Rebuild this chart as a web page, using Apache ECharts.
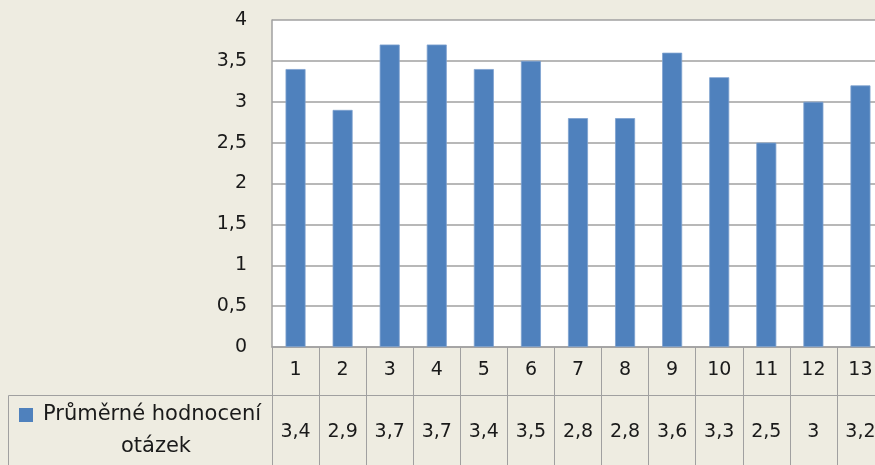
<!DOCTYPE html>
<html>
<head>
<meta charset="utf-8">
<script src="https://cdn.jsdelivr.net/npm/echarts@6/dist/echarts.min.js"></script>
<style>
html,body{margin:0;padding:0;background:#EEECE1;overflow:hidden;width:875px;height:465px;}
#c{width:886px;height:465px;}
</style>
</head>
<body>
<div id="c"></div>
<script>
const categories = ['1','2','3','4','5','6','7','8','9','10','11','12','13'];
const values = [3.4, 2.9, 3.7, 3.7, 3.4, 3.5, 2.8, 2.8, 3.6, 3.3, 2.5, 3, 3.2];
const seriesName = 'Průměrné hodnocení otázek';
const legendLines = ['Průměrné hodnocení', 'otázek'];
const yTicks = {min: 0, max: 4, interval: 0.5};

const fmt = v => String(v).replace('.', ',');
const FONT = 'DejaVu Sans';
const GRAY = '#A0A0A0';
const chart = echarts.init(document.getElementById('c'), null, {renderer: 'canvas'});
chart.setOption({
  backgroundColor: '#EEECE1',
  animation: false,
  textStyle: {fontFamily: FONT},
  grid: {left: 272, top: 20, width: 612, height: 327, show: true, backgroundColor: '#FFFFFF', borderWidth: 0},
  xAxis: [
    {
      type: 'category', data: categories, position: 'bottom',
      axisLine: {show: true, lineStyle: {color: GRAY, width: 1.5}},
      axisTick: {show: true, length: 125, interval: 0, lineStyle: {color: GRAY, width: 1}},
      axisLabel: {interval: 0, margin: 23, verticalAlign: 'middle', color: '#1a1a1a', fontSize: 19, fontFamily: FONT},
      splitLine: {show: false}
    },
    {
      type: 'category', data: values.map(fmt), position: 'bottom', offset: 48,
      axisLine: {show: true, lineStyle: {color: GRAY, width: 1}},
      axisTick: {show: false},
      axisLabel: {interval: 0, margin: 37, verticalAlign: 'middle', color: '#1a1a1a', fontSize: 19, fontFamily: FONT},
      splitLine: {show: false}
    }
  ],
  yAxis: {
    type: 'value', min: yTicks.min, max: yTicks.max, interval: yTicks.interval,
    axisLine: {show: true, lineStyle: {color: GRAY, width: 1.5}},
    axisTick: {show: false},
    axisLabel: {margin: 25, color: '#1a1a1a', fontSize: 19, fontFamily: FONT, formatter: v => fmt(v)},
    splitLine: {show: true, lineStyle: {color: GRAY, width: 1.5}}
  },
  series: [{
    name: seriesName, type: 'bar', xAxisIndex: 0, data: values, barWidth: 20,
    itemStyle: {color: '#4F81BD', borderColor: '#7EA1CF', borderWidth: 0.8}
  }],
  graphic: [
    {type: 'rect', shape: {x: 8.5, y: 395.5, width: 264, height: 100}, style: {fill: 'none', stroke: GRAY, lineWidth: 1}},
    {type: 'rect', shape: {x: 19, y: 408, width: 14, height: 14}, style: {fill: '#4F81BD'}},
    {type: 'text', x: 152, y: 415, style: {text: legendLines[0], font: '21px "DejaVu Sans"', fill: '#1a1a1a', textAlign: 'center', textVerticalAlign: 'middle'}},
    {type: 'text', x: 156, y: 447, style: {text: legendLines[1], font: '21px "DejaVu Sans"', fill: '#1a1a1a', textAlign: 'center', textVerticalAlign: 'middle'}}
  ]
});
</script>
</body>
</html>
